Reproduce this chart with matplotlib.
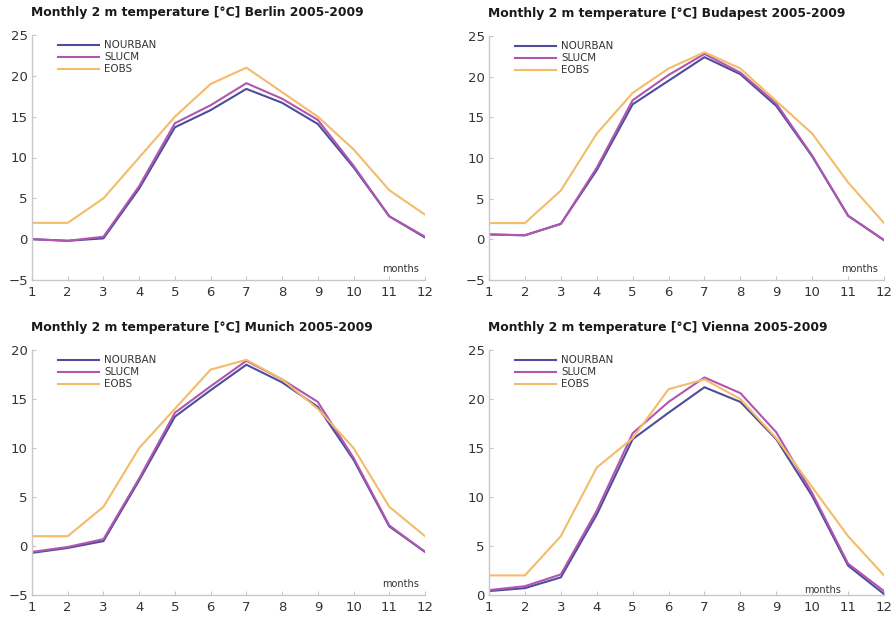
import matplotlib
matplotlib.use("Agg")
import matplotlib.pyplot as plt

months = list(range(1, 13))
series_names = ["NOURBAN", "SLUCM", "EOBS"]

berlin_nourban = [0.0, -0.2, 0.1, 6.2, 13.7, 15.8, 18.4, 16.7, 14.1, 8.8, 2.8, 0.2]
berlin_slucm = [0.0, -0.2, 0.3, 6.5, 14.2, 16.4, 19.1, 17.2, 14.6, 9.0, 2.8, 0.3]
berlin_eobs = [2, 2, 5, 10, 15, 19, 21, 18, 15, 11, 6, 3]

budapest_nourban = [0.6, 0.5, 1.9, 8.5, 16.6, 19.5, 22.4, 20.3, 16.4, 10.2, 2.9, -0.1]
budapest_slucm = [0.6, 0.5, 1.9, 8.8, 17.1, 20.2, 22.8, 20.5, 16.7, 10.3, 2.9, -0.1]
budapest_eobs = [2, 2, 6, 13, 18, 21, 23, 21, 17, 13, 7, 2]

munich_nourban = [-0.7, -0.2, 0.5, 6.7, 13.2, 15.9, 18.5, 16.7, 14.2, 8.8, 2.0, -0.6]
munich_slucm = [-0.6, -0.1, 0.7, 6.9, 13.6, 16.3, 18.9, 17.0, 14.7, 9.0, 2.1, -0.6]
munich_eobs = [1, 1, 4, 10, 14, 18, 19, 17, 14, 10, 4, 1]

vienna_nourban = [0.4, 0.7, 1.8, 8.2, 15.9, 18.6, 21.2, 19.7, 15.9, 10.1, 3.0, 0.1]
vienna_slucm = [0.5, 0.9, 2.1, 8.6, 16.5, 19.7, 22.2, 20.6, 16.6, 10.4, 3.2, 0.4]
vienna_eobs = [2, 2, 6, 13, 16, 21, 22, 20, 16, 11, 6, 2]

cities = ["Berlin", "Budapest", "Munich", "Vienna"]
data = {
    "Berlin": (berlin_nourban, berlin_slucm, berlin_eobs),
    "Budapest": (budapest_nourban, budapest_slucm, budapest_eobs),
    "Munich": (munich_nourban, munich_slucm, munich_eobs),
    "Vienna": (vienna_nourban, vienna_slucm, vienna_eobs),
}
ylims = {"Berlin": (-5, 25), "Budapest": (-5, 25), "Munich": (-5, 20), "Vienna": (0, 25)}

colors = ["#4d4d9c", "#b055b0", "#f3bb6a"]

W, H = 896, 618
fig = plt.figure(figsize=(W / 100, H / 100), dpi=100)
fig.patch.set_facecolor("white")

# pixel boxes: left, right, top, bottom
boxes = {
    "Berlin": (32, 425, 35, 280),
    "Budapest": (489, 884, 36, 280),
    "Munich": (32, 425, 350, 595),
    "Vienna": (489, 884, 350, 595),
}
months_pos = {"Berlin": (0.985, 0.025), "Budapest": (0.985, 0.025),
              "Munich": (0.985, 0.025), "Vienna": (0.89, 0.0)}

for city in cities:
    l, r, t, b = boxes[city]
    ax = fig.add_axes([l / W, 1 - b / H, (r - l) / W, (b - t) / H])
    for name, vals, c in zip(series_names, data[city], colors):
        ax.plot(months, vals, color=c, lw=1.5, label=name)
    ax.set_xlim(1, 12)
    ax.set_ylim(*ylims[city])
    lo, hi = ylims[city]
    ax.set_yticks(range(lo, hi + 1, 5))
    ax.set_yticklabels([str(v).replace("-", "\u2212") for v in range(lo, hi + 1, 5)])
    ax.set_xticks(months)
    for s in ["top", "right"]:
        ax.spines[s].set_visible(False)
    for s in ["left", "bottom"]:
        ax.spines[s].set_color("#c8c8c8")
        ax.spines[s].set_linewidth(1.0)
    ax.tick_params(axis="both", direction="in", length=3, color="#c8c8c8",
                   labelsize=9.5, labelcolor="#333333", pad=4)
    ax.tick_params(axis="y", pad=3)
    mx, my = months_pos[city]
    ax.text(mx, my, "months", transform=ax.transAxes, ha="right", va="bottom",
            fontsize=7, color="#333333")
    ax.set_title(f"Monthly 2 m temperature [°C] {city} 2005-2009", loc="left",
                 fontsize=8.9, fontweight="bold", color="#1a1a1a", x=-0.003, pad=14)
    leg = ax.legend(loc="upper left", bbox_to_anchor=(0.055, 0.995), frameon=False,
                    fontsize=7.4, handlelength=4.0, handletextpad=0.5, labelspacing=0.2,
                    borderaxespad=0.0)
    for txt in leg.get_texts():
        txt.set_color("#333333")

fig.savefig("out.png", dpi=100, facecolor="white")
